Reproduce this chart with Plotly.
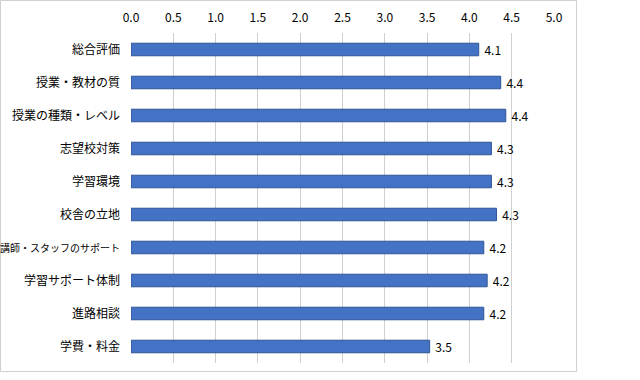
import plotly.graph_objects as go

categories = ["総合評価", "授業・教材の質", "授業の種類・レベル", "志望校対策", "学習環境",
              "校舎の立地", "講師・スタッフのサポート", "学習サポート体制", "進路相談", "学費・料金"]
scores = [4.11, 4.37, 4.43, 4.26, 4.26, 4.32, 4.17, 4.21, 4.17, 3.53]
x_ticks = [0.0, 0.5, 1.0, 1.5, 2.0, 2.5, 3.0, 3.5, 4.0, 4.5, 5.0]

W, H = 640, 380
L, R, T, B = 131, 86, 33, 17

# fit long labels into the left margin (CJK font here has full-width kana)
def fit_label(s):
    if len(s) > 10:
        return f'<span style="font-size:10px">{s}</span>'
    return s

fig = go.Figure(go.Bar(
    y=categories, x=scores, orientation="h",
    marker=dict(color="#4472C4", line=dict(color="#2F5597", width=1)),
    width=0.38,
    text=[f" {v:.1f}" for v in scores], textposition="outside",
    constraintext="none",
    textfont=dict(family="Noto Sans CJK JP", size=12, color="#000000"),
    cliponaxis=False, hoverinfo="skip",
))

pw, ph = W - L - R, H - T - B
fig.add_shape(type="rect", xref="paper", yref="paper",
              x0=(0.5 - L) / pw, x1=(576.5 - L) / pw,
              y0=(H - B - 371.5) / ph, y1=(H - B - 0.5) / ph,
              line=dict(color="#D0D0D0", width=1), fillcolor="rgba(0,0,0,0)", layer="below")

fig.update_layout(
    width=W, height=H, margin=dict(l=L, r=R, t=T, b=B, pad=0),
    paper_bgcolor="white", plot_bgcolor="white", showlegend=False,
    font=dict(family="Noto Sans CJK JP", size=12, color="#000000"),
    xaxis=dict(range=[0, 5], side="top", tickvals=x_ticks,
               ticktext=[f"{v:.1f}" for v in x_ticks],
               showgrid=True, gridcolor="#D0D0D0", gridwidth=1,
               zeroline=False, showline=False, ticks="", ticklabelstandoff=8,
               automargin=False, tickfont=dict(size=12, color="#000000")),
    yaxis=dict(autorange="reversed", showgrid=False, zeroline=False, showline=False,
               tickmode="array", tickvals=categories,
               ticktext=[fit_label(c) for c in categories],
               ticks="", ticklabelstandoff=10, automargin=False,
               tickfont=dict(size=12, color="#000000")),
)

fig.write_html("out.html", config={"displayModeBar": False},
               post_script="document.body.style.margin='0';")
